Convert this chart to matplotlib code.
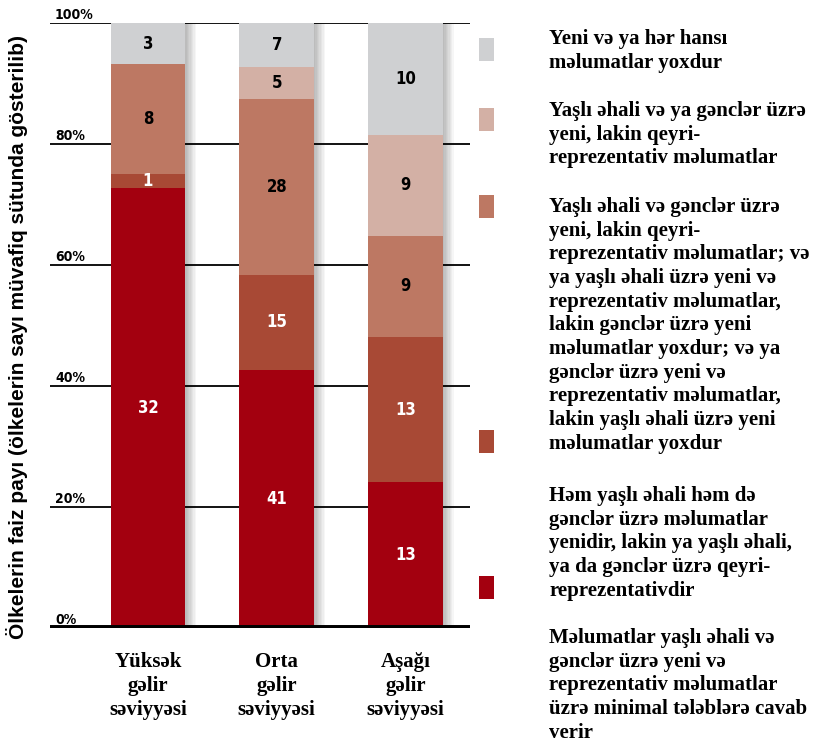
import matplotlib
matplotlib.use("Agg")
import matplotlib.pyplot as plt
import numpy as np
from matplotlib.patches import Rectangle

categories = ["Yüksək\ngəlir\nsəviyyəsi", "Orta\ngəlir\nsəviyyəsi", "Aşağı\ngəlir\nsəviyyəsi"]
# counts per segment, bottom to top
s_minimal = [32, 41, 13]
s_new_nonrep_one = [1, 15, 13]
s_new_nonrep_both = [8, 28, 9]
s_new_nonrep_either = [0, 5, 9]
s_no_data = [3, 7, 10]
series = [s_minimal, s_new_nonrep_one, s_new_nonrep_both, s_new_nonrep_either, s_no_data]
colors = ["#A3000F", "#A84935", "#BD7863", "#D3B0A5", "#CFD0D2"]
text_colors = ["white", "white", "black", "black", "black"]
yticks = [0, 20, 40, 60, 80, 100]
ytick_labels = ["0%", "20%", "40%", "60%", "80%", "100%"]
legend_texts = [
    "Yeni və ya hər hansı\nməlumatlar yoxdur",
    "Yaşlı əhali və ya gənclər üzrə\nyeni, lakin qeyri-\nreprezentativ məlumatlar",
    "Yaşlı əhali və gənclər üzrə\nyeni, lakin qeyri-\nreprezentativ məlumatlar; və\nya yaşlı əhali üzrə yeni və\nreprezentativ məlumatlar,\nlakin gənclər üzrə yeni\nməlumatlar yoxdur; və ya\ngənclər üzrə yeni və\nreprezentativ məlumatlar,\nlakin yaşlı əhali üzrə yeni\nməlumatlar yoxdur",
    "Həm yaşlı əhali həm də\ngənclər üzrə məlumatlar\nyenidir, lakin ya yaşlı əhali,\nya da gənclər üzrə qeyri-\nreprezentativdir",
    "Məlumatlar yaşlı əhali və\ngənclər üzrə yeni və\nreprezentativ məlumatlar\nüzrə minimal tələblərə cavab\nverir",
]
legend_colors = ["#CFD0D2", "#D3B0A5", "#BD7863", "#A84935", "#A3000F"]

W, H = 833, 748
fig = plt.figure(figsize=(W / 100, H / 100), dpi=100)
ax = fig.add_axes([50 / W, (H - 628) / H, 420 / W, 605 / H])

data = np.array(series, dtype=float)
totals = data.sum(axis=0)
pct = data / totals * 100
x = np.arange(len(categories))
width = 0.58

# grid lines
for yv in yticks[1:]:
    ax.axhline(yv, color="black", lw=1.3, zorder=1)
ax.axhline(0, color="black", lw=5, zorder=5)

# shadows
for k in range(8):
    ax.bar(x + width * 0.018 * (k + 1), 100, width=width, color="black",
           alpha=0.035, zorder=2, linewidth=0)

bottom = np.zeros(len(categories))
for i, (vals, c) in enumerate(zip(pct, colors)):
    ax.bar(x, vals, width=width, bottom=bottom, color=c, zorder=3, linewidth=0)
    for j in range(len(categories)):
        if data[i, j] > 0:
            ax.text(x[j], bottom[j] + vals[j] / 2, f"{int(data[i, j])}",
                    ha="center", va="center", color=text_colors[i],
                    fontsize=12, fontweight="bold", family="DejaVu Sans",
                    fontstretch="condensed", zorder=6)
    bottom += vals

ax.set_xlim(-0.76, 2.50)
ax.set_ylim(0, 100)
for s in ax.spines.values():
    s.set_visible(False)
ax.set_xticks([])
ax.set_yticks([])

for yv, lab in zip(yticks, ytick_labels):
    ax.text(0.012, yv + 0.1, lab, transform=ax.get_yaxis_transform(),
            ha="left", va="bottom", fontsize=10, fontweight="bold",
            family="DejaVu Sans", fontstretch="condensed", zorder=6)

for xi, lab in zip(x, categories):
    ax.text(xi, -4.0, lab, ha="center", va="top", fontsize=15,
            fontweight="bold", family="Liberation Serif", linespacing=1.245)

fig.text(17 / W, 1 - 337 / H,
         "Ölkelerin faiz payı (ölkelerin sayı müvafiq sütunda gösterilib)",
         rotation=90, ha="center", va="center", fontsize=15,
         fontweight="bold", family="Liberation Sans")

# legend
sq_tops = [38, 108, 195, 430, 576]
txt_tops = [29, 101, 197, 486, 628]
for c, t, st, tt in zip(legend_colors, legend_texts, sq_tops, txt_tops):
    fig.patches.append(Rectangle((482 / W, 1 - (st + 23) / H), 5 / W, 23 / H,
                                 transform=fig.transFigure, color="black",
                                 alpha=0.12, linewidth=0))
    fig.patches.append(Rectangle((479 / W, 1 - (st + 23) / H), 15 / W, 23 / H,
                                 transform=fig.transFigure, color=c,
                                 linewidth=0))
    fig.text(549 / W, 1 - tt / H, t, ha="left", va="top", fontsize=15,
             fontweight="bold", family="Liberation Serif", linespacing=1.245)

fig.savefig("out.png", dpi=100)
